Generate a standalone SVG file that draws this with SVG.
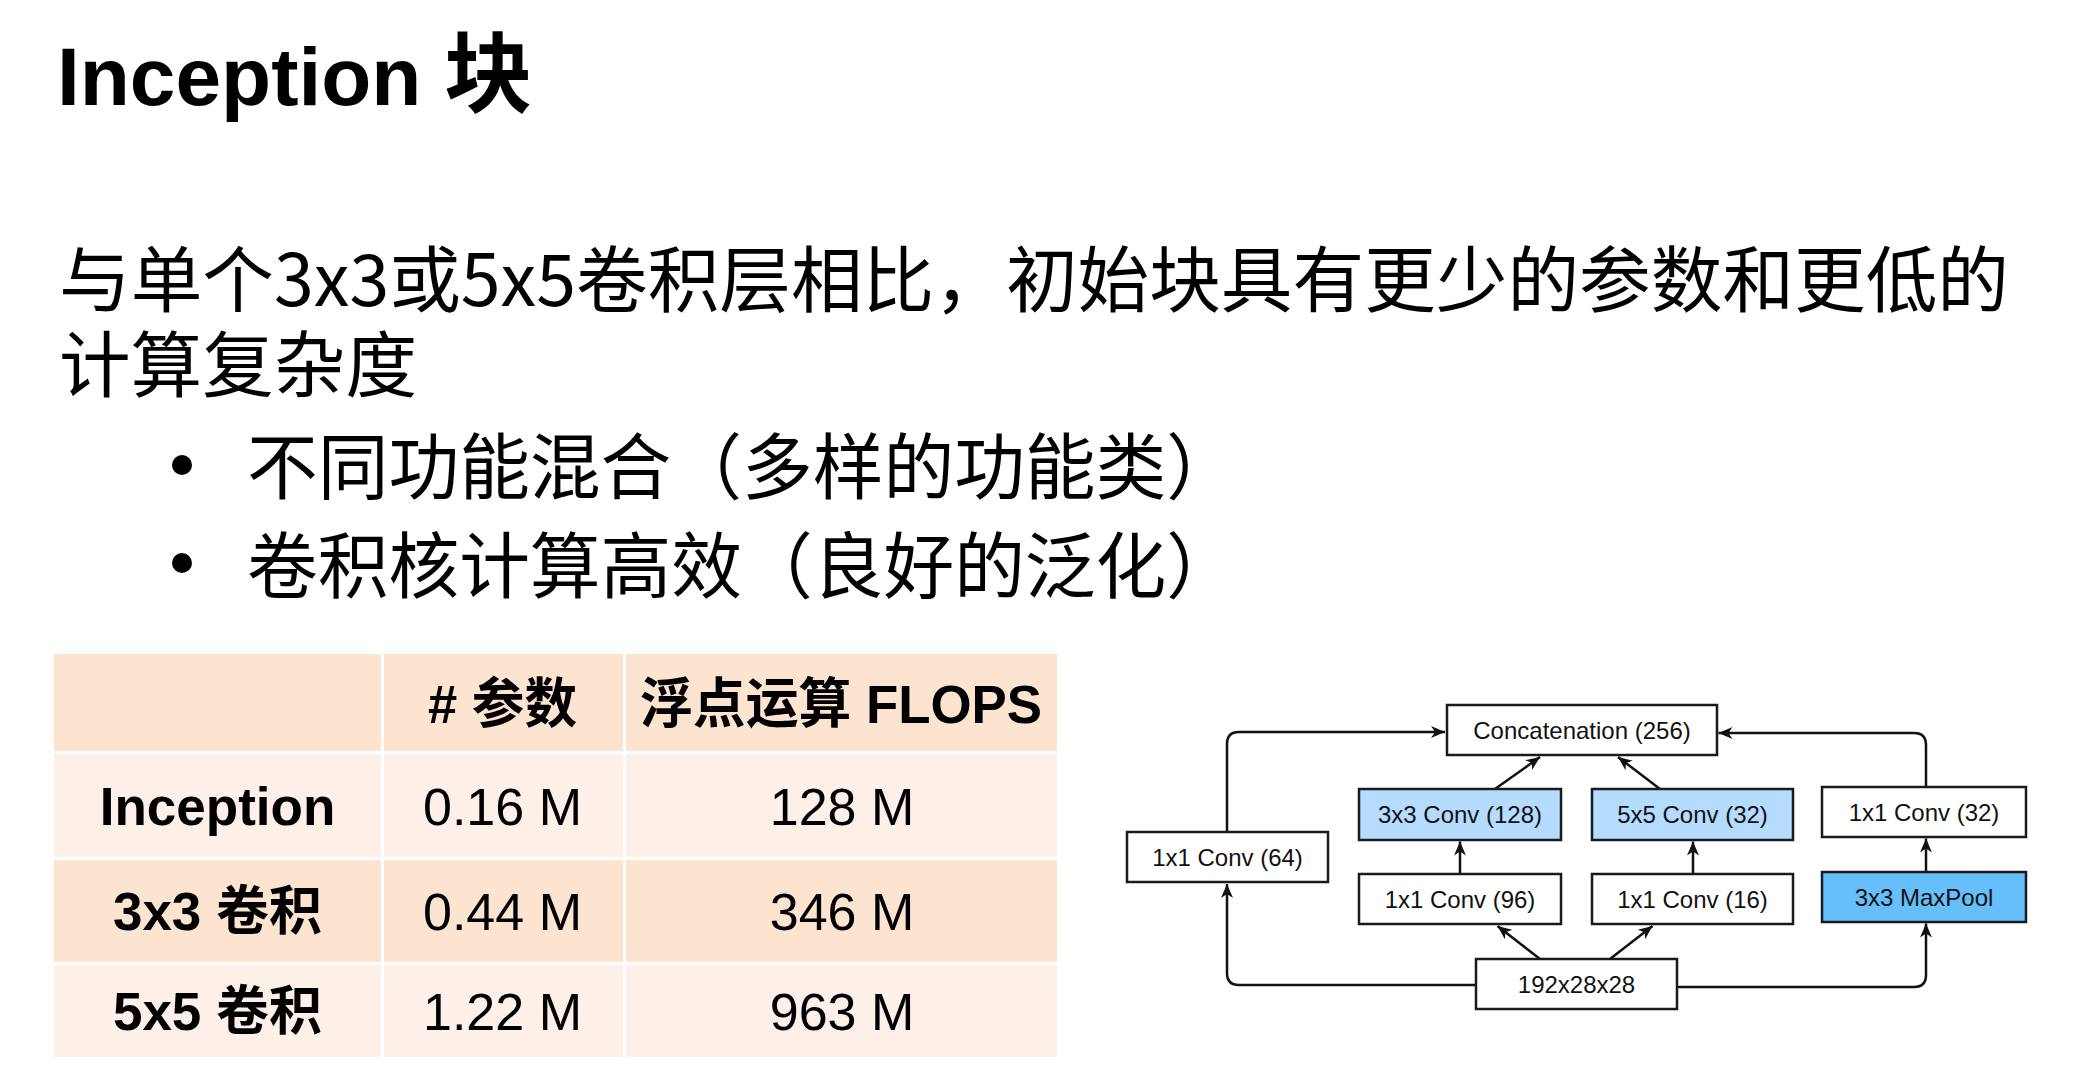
<svg xmlns="http://www.w3.org/2000/svg" width="2076" height="1066" viewBox="0 0 2076 1066">
<defs>
<marker id="arr" markerUnits="userSpaceOnUse" markerWidth="16" markerHeight="14" refX="14" refY="7" orient="auto">
<path d="M0,1 L14,7 L0,13 L4,7 z" fill="#111"/>
</marker>
<style>
.title{font-family:"Liberation Sans","Noto Sans CJK SC",sans-serif;font-weight:bold;font-size:82px;fill:#000}
.cjkb{font-family:"Noto Sans CJK SC",sans-serif;font-weight:bold;font-size:88px}
.body{font-family:"Noto Sans CJK SC",sans-serif;font-size:72px;fill:#000}
.th{font-family:"Liberation Sans","Noto Sans CJK SC",sans-serif;font-weight:bold;font-size:54px;fill:#000;text-anchor:middle}
.tdb{font-family:"Liberation Sans","Noto Sans CJK SC",sans-serif;font-weight:bold;font-size:53px;fill:#000;text-anchor:middle}
.td{font-family:"Liberation Sans","Noto Sans CJK SC",sans-serif;font-size:52px;fill:#000;text-anchor:middle}
.dark{fill:#FCE4D0}
.light{fill:#FDF0E8}
.box{fill:#fff;stroke:#1a1a1a;stroke-width:2.5}
.conv{fill:#B5DBFF}
.pool{fill:#66BFFA}
.lbl{font-family:"Liberation Sans",sans-serif;font-size:24px;fill:#111;text-anchor:middle}
.edge{fill:none;stroke:#111;stroke-width:2.5;marker-end:url(#arr)}
</style>
</defs>
<rect width="2076" height="1066" fill="#fff"/>

<g id="title">
<text class="title" x="57" y="105">Inception <tspan class="cjkb">块</tspan></text>
</g>

<g id="body">
<text class="body" x="59" y="306" textLength="1950" lengthAdjust="spacingAndGlyphs">与单个3x3或5x5卷积层相比，初始块具有更少的参数和更低的</text>
<text class="body" x="59" y="391" textLength="358" lengthAdjust="spacingAndGlyphs">计算复杂度</text>
<circle cx="182" cy="465" r="10" fill="#000"/>
<text class="body" x="247" y="493" textLength="990" lengthAdjust="spacingAndGlyphs">不同功能混合（多样的功能类）</text>
<circle cx="182" cy="563" r="10" fill="#000"/>
<text class="body" x="247" y="592" textLength="990" lengthAdjust="spacingAndGlyphs">卷积核计算高效（良好的泛化）</text>
</g>

<g id="table">
<rect class="dark" x="54" y="654" width="327" height="97"/>
<rect class="dark" x="384" y="654" width="239" height="97"/>
<rect class="dark" x="626" y="654" width="431" height="97"/>
<rect class="light" x="54" y="754" width="327" height="103"/>
<rect class="light" x="384" y="754" width="239" height="103"/>
<rect class="light" x="626" y="754" width="431" height="103"/>
<rect class="dark" x="54" y="860" width="327" height="102"/>
<rect class="dark" x="384" y="860" width="239" height="102"/>
<rect class="dark" x="626" y="860" width="431" height="102"/>
<rect class="light" x="54" y="965" width="327" height="92"/>
<rect class="light" x="384" y="965" width="239" height="92"/>
<rect class="light" x="626" y="965" width="431" height="92"/>
<text class="th" x="502.5" y="723" textLength="149" lengthAdjust="spacingAndGlyphs"># 参数</text>
<text class="th" x="841" y="723" textLength="402" lengthAdjust="spacingAndGlyphs">浮点运算 FLOPS</text>
<text class="tdb" x="217.5" y="825">Inception</text>
<text class="td" x="502.5" y="825">0.16 M</text>
<text class="td" x="842" y="825">128 M</text>
<text class="tdb" x="217.5" y="930">3x3 卷积</text>
<text class="td" x="502.5" y="930">0.44 M</text>
<text class="td" x="842" y="930">346 M</text>
<text class="tdb" x="217.5" y="1030">5x5 卷积</text>
<text class="td" x="502.5" y="1030">1.22 M</text>
<text class="td" x="842" y="1030">963 M</text>
</g>

<g id="connectors">
<path class="edge" d="M1476,985 H1239 Q1227,985 1227,973 V884"/>
<path class="edge" d="M1227,832 V744 Q1227,732 1239,732 H1445"/>
<path class="edge" d="M1540,959 L1497.5,926"/>
<path class="edge" d="M1610,959 L1652.5,926"/>
<path class="edge" d="M1460,874 V841.5"/>
<path class="edge" d="M1693,874 V841.5"/>
<path class="edge" d="M1495,789 L1540,757"/>
<path class="edge" d="M1660,789 L1618,757"/>
<path class="edge" d="M1677,987 H1914 Q1926,987 1926,975 V923.5"/>
<path class="edge" d="M1926,872 V838.5"/>
<path class="edge" d="M1926,787 V745 Q1926,733 1914,733 H1718.5"/>
</g>

<g id="node-concat">
<rect class="box" x="1447" y="705" width="270" height="50"/>
<text class="lbl" x="1582" y="738.5" font-size="25">Concatenation (256)</text>
</g>
<g id="node-conv1x1-64">
<rect class="box" x="1127" y="832" width="201" height="50"/>
<text class="lbl" x="1227.5" y="865.5">1x1 Conv (64)</text>
</g>
<g id="node-conv3x3-128">
<rect class="box conv" x="1359" y="789" width="202" height="51"/>
<text class="lbl" x="1460" y="823">3x3 Conv (128)</text>
</g>
<g id="node-conv1x1-96">
<rect class="box" x="1359" y="874" width="202" height="50"/>
<text class="lbl" x="1460" y="907.5">1x1 Conv (96)</text>
</g>
<g id="node-conv5x5-32">
<rect class="box conv" x="1592" y="789" width="201" height="51"/>
<text class="lbl" x="1692.5" y="823">5x5 Conv (32)</text>
</g>
<g id="node-conv1x1-16">
<rect class="box" x="1592" y="874" width="201" height="50"/>
<text class="lbl" x="1692.5" y="907.5">1x1 Conv (16)</text>
</g>
<g id="node-conv1x1-32">
<rect class="box" x="1822" y="787" width="204" height="50"/>
<text class="lbl" x="1924" y="820.5">1x1 Conv (32)</text>
</g>
<g id="node-maxpool">
<rect class="box pool" x="1822" y="872" width="204" height="50"/>
<text class="lbl" x="1924" y="905.5">3x3 MaxPool</text>
</g>
<g id="node-input">
<rect class="box" x="1476" y="959" width="201" height="50"/>
<text class="lbl" x="1576.5" y="992.5">192x28x28</text>
</g>
</svg>
